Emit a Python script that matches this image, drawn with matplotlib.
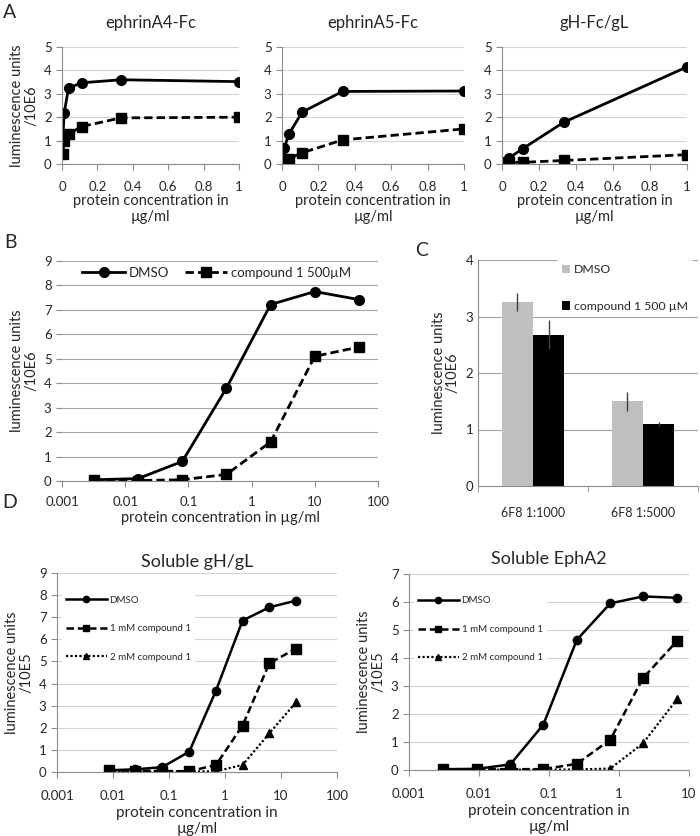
import matplotlib.pyplot as plt

plt.rcParams['font.family'] = ['Lato', 'DejaVu Sans']
plt.rcParams['text.color'] = '#262626'
plt.rcParams['axes.labelcolor'] = '#262626'

# panel A - 3-fold dilutions of soluble protein (ug/ml)
conc_a = [0.0041, 0.0123, 0.037, 0.111, 0.333, 1.0]
titles_a = ['ephrinA4-Fc', 'ephrinA5-Fc', 'gH-Fc/gL']
dmso_a = [
    [1.03, 2.18, 3.25, 3.47, 3.6, 3.52],
    [0.25, 0.67, 1.27, 2.22, 3.1, 3.12],
    [0.05, 0.1, 0.25, 0.65, 1.78, 4.15],
]
cpd_a = [
    [0.42, 0.97, 1.28, 1.6, 1.97, 2.0],
    [0.05, 0.1, 0.22, 0.48, 1.03, 1.5],
    [0.03, 0.05, 0.07, 0.07, 0.15, 0.4],
]

# panel B
conc_b = [0.0032, 0.016, 0.08, 0.4, 2, 10, 50]
dmso_b = [0.05, 0.1, 0.8, 3.8, 7.22, 7.75, 7.42]
cpd_b = [0.03, 0.02, 0.05, 0.27, 1.6, 5.1, 5.48]

# panel C
groups_c = ['6F8 1:1000', '6F8 1:5000']
dmso_c = [3.25, 1.5]
dmso_c_err = [0.16, 0.17]
cpd_c = [2.68, 1.1]
cpd_c_err = [0.26, 0.03]

# panel D
conc_d1 = [0.0085, 0.025, 0.076, 0.23, 0.69, 2.06, 6.2, 18.5]
dmso_d1 = [0.08, 0.12, 0.22, 0.92, 3.68, 6.85, 7.45, 7.75]
mm1_d1 = [0.07, 0.06, 0.05, 0.03, 0.32, 2.1, 4.92, 5.58]
mm2_d1 = [0.03, 0.02, 0.02, 0.02, 0.03, 0.32, 1.75, 3.15]
conc_d2 = [0.0031, 0.0093, 0.028, 0.083, 0.25, 0.75, 2.2, 6.7]
dmso_d2 = [0.03, 0.04, 0.2, 1.62, 4.65, 5.95, 6.2, 6.15]
mm1_d2 = [0.02, 0.03, 0.03, 0.03, 0.22, 1.08, 3.28, 4.6]
mm2_d2 = [0.01, 0.01, 0.01, 0.01, 0.02, 0.05, 0.95, 2.52]

log_ticks = [0.001, 0.01, 0.1, 1, 10, 100]
log_labels = ['0.001', '0.01', '0.1', '1', '10', '100']

W, H = 700, 836
AX_COL = '#8c8c8c'


def px_axes(fig, x0, x1, ytop, ybot):
    return fig.add_axes([x0 / W, 1 - ybot / H, (x1 - x0) / W, (ybot - ytop) / H])


def excel_style(ax, grid_col, tick_size=9.5):
    for s in ['top', 'right']:
        ax.spines[s].set_visible(False)
    for s in ['left', 'bottom']:
        ax.spines[s].set_color(AX_COL)
        ax.spines[s].set_linewidth(0.8)
    ax.yaxis.grid(True, color=grid_col, lw=0.8)
    ax.set_axisbelow(True)
    ax.tick_params(color=AX_COL, labelcolor='#262626', length=4, width=0.8,
                   labelsize=tick_size)


def log_axis(ax, xmax):
    ax.set_xscale('log')
    ticks = [t for t in log_ticks if t <= xmax]
    ax.set_xticks(ticks)
    ax.set_xticklabels(log_labels[:len(ticks)])
    ax.minorticks_off()
    ax.set_xlim(0.001, xmax)


def white_legend(leg):
    fr = leg.get_frame()
    fr.set_facecolor('white')
    fr.set_edgecolor('none')
    fr.set_alpha(1)


fig = plt.figure(figsize=(W / 100, H / 100), dpi=100)

solid = dict(color='black', lw=2, ls='-', marker='o', ms=7)
dash = dict(color='black', lw=2, ls=(0, (3, 1.5)), marker='s', ms=7)

# ---- panel A
a_pos = [(62, 239), (282, 464), (502, 687)]
for i, (x0, x1) in enumerate(a_pos):
    ax = px_axes(fig, x0, x1, 47, 164)
    excel_style(ax, '#d4d4d4')
    ax.plot(conc_a, cpd_a[i], **dash)
    ax.plot(conc_a, dmso_a[i], **solid)
    ax.set_xlim(0, 1)
    ax.set_ylim(0, 5)
    ax.set_xticks([0, 0.2, 0.4, 0.6, 0.8, 1])
    ax.set_xticklabels(['0', '0.2', '0.4', '0.6', '0.8', '1'])
    ax.set_yticks(range(6))
    ax.tick_params(axis='x', pad=8)
    ax.set_title(titles_a[i], fontsize=12, pad=14)
    ax.set_xlabel('protein concentration in\nµg/ml', fontsize=10.5,
                  linespacing=1.15, labelpad=1)
    if i == 0:
        ax.set_ylabel('luminescence units\n/10E6', fontsize=10.5,
                      linespacing=1.0)

# ---- panel B
ax = px_axes(fig, 62, 378, 261, 481)
excel_style(ax, '#a6a6a6')
ax.plot(conc_b, cpd_b, label='compound 1 500µM', **dash)
ax.plot(conc_b, dmso_b, label='DMSO', **solid)
log_axis(ax, 100)
ax.set_ylim(0, 9)
ax.set_yticks(range(10))
ax.spines['left'].set_visible(False)
ax.tick_params(axis='x', pad=7)
ax.set_xlabel('protein concentration in µg/ml', fontsize=10.5, labelpad=2)
ax.set_ylabel('luminescence units\n/10E6', fontsize=10.5, linespacing=1.0)
h, l = ax.get_legend_handles_labels()
leg = ax.legend(h[::-1], l[::-1], loc='center', bbox_to_anchor=(0.49, 0.945),
                ncol=2, fontsize=9.5, handlelength=3.2, columnspacing=1.2,
                frameon=True, borderpad=0.2, handletextpad=0.3)
white_legend(leg)

# ---- panel C
ax = px_axes(fig, 478, 698, 260, 486)
excel_style(ax, '#a0a0a0')
xc = range(len(groups_c))
bw = 0.285
ax.bar([x - bw / 2 for x in xc], dmso_c, bw, color='#bfbfbf', label='DMSO',
       yerr=dmso_c_err, error_kw=dict(ecolor='#404040', elinewidth=1, capsize=0))
ax.bar([x + bw / 2 for x in xc], cpd_c, bw, color='black',
       label='compound 1 500 µM',
       yerr=cpd_c_err, error_kw=dict(ecolor='#404040', elinewidth=1, capsize=0))
ax.set_xlim(-0.5, 1.5)
ax.set_ylim(0, 4)
ax.set_yticks(range(5))
ax.set_xticks(list(xc))
ax.set_xticklabels(groups_c, fontsize=9)
ax.set_xticks([-0.5, 0.5, 1.5], minor=True)
ax.tick_params(axis='x', which='major', length=0, pad=15)
ax.tick_params(axis='x', which='minor', length=4, color=AX_COL)
ax.tick_params(axis='y', length=0)
ax.set_ylabel('luminescence units\n/10E6', fontsize=10.5, linespacing=1.0)
leg = ax.legend(loc='upper left', bbox_to_anchor=(0.33, 1.03), fontsize=8.8,
                handlelength=0.7, handleheight=0.7, labelspacing=2.1,
                handletextpad=0.3, borderpad=0.4, frameon=True)
white_legend(leg)

# ---- panel D
solid_d = dict(color='black', lw=1.8, ls='-', marker='o', ms=6)
dash_d = dict(color='black', lw=1.8, ls=(0, (3, 1.5)), marker='s', ms=6.5)
dot_d = dict(color='black', lw=1.6, ls=(0, (1, 1)), marker='^', ms=6)

d_panels = [
    ((57, 337, 573, 772), conc_d1, dmso_d1, mm1_d1, mm2_d1, 100, 9,
     'Soluble gH/gL', 4),
    ((409, 689, 574, 770), conc_d2, dmso_d2, mm1_d2, mm2_d2, 10, 7,
     'Soluble EphA2', 7),
]
for rect, conc, dm, m1, m2, xmax, ymax, title, tpad in d_panels:
    ax = px_axes(fig, *rect)
    excel_style(ax, '#d4d4d4')
    ax.plot(conc, m2, label='2 mM compound 1', **dot_d)
    ax.plot(conc, m1, label='1 mM compound 1', **dash_d)
    ax.plot(conc, dm, label='DMSO', **solid_d)
    log_axis(ax, xmax)
    ax.set_ylim(0, ymax)
    ax.set_yticks(range(ymax + 1))
    ax.tick_params(axis='x', pad=9)
    ax.set_title(title, fontsize=13, pad=tpad)
    ax.set_xlabel('protein concentration in\nµg/ml', fontsize=11,
                  linespacing=1.2, labelpad=3)
    ax.set_ylabel('luminescence units\n/10E5', fontsize=10.5, linespacing=1.0)
    h, l = ax.get_legend_handles_labels()
    leg = ax.legend(h[::-1], l[::-1], loc='upper left',
                    bbox_to_anchor=(0.0, 0.93), fontsize=7, handlelength=4.2,
                    labelspacing=2.0, markerscale=0.75, frameon=True,
                    borderpad=0.4, handletextpad=0.3)
    white_legend(leg)

# panel letters
for letter, (px, py) in zip('ABCD', [(10, 12), (10, 242), (422, 250), (10, 502)]):
    fig.text(px / W, 1 - py / H, letter, fontsize=14, ha='center', va='center')

fig.savefig('out.png', dpi=100)
